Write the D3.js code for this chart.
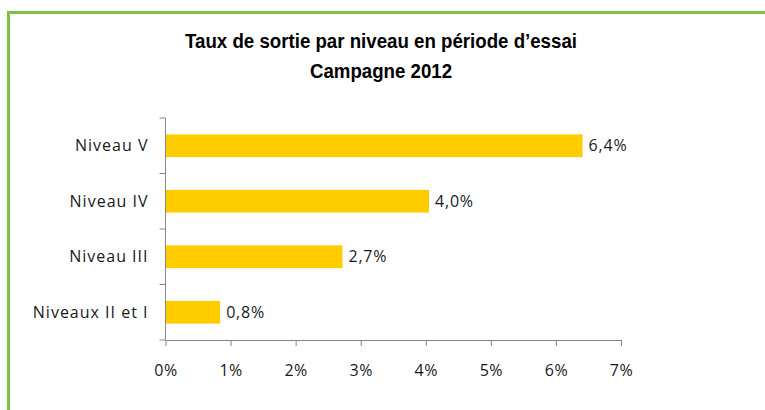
<!DOCTYPE html>
<html>
<head>
<meta charset="utf-8">
<script src="https://cdn.jsdelivr.net/npm/d3@7"></script>
<style>
  body { margin: 0; background: #fff; }
</style>
</head>
<body>
<svg id="chart" width="765" height="410"></svg>
<script>
// data
let categories = ["Niveau V", "Niveau IV", "Niveau III", "Niveaux II et I"];
let values = [6.41, 4.05, 2.72, 0.84];
let valueLabels = ["6,4%", "4,0%", "2,7%", "0,8%"];
let xTicks = [0, 1, 2, 3, 4, 5, 6, 7];
let titleLines = ["Taux de sortie par niveau en période d\u2019essai", "Campagne 2012"];

let svg = d3.select("#chart");

// green frame (runs off the right and bottom edges)
svg.append("path")
    .attr("d", "M8.5,900 V12.5 H900")
    .attr("fill", "none")
    .attr("stroke", "#7dc143")
    .attr("stroke-width", 3);

// title (narrow bold look)
svg.append("g")
    .attr("transform", "translate(381,0) scale(0.89,1)")
    .selectAll("text")
    .data(titleLines)
    .enter()
    .append("text")
    .attr("x", 0)
    .attr("y", function (d, i) { return 48 + i * 30; })
    .attr("text-anchor", "middle")
    .style("font-family", "'Liberation Sans', Arial, sans-serif")
    .style("font-weight", "bold")
    .style("font-size", "21px")
    .text(function (d) { return d; });

let x = d3.scaleLinear().domain([0, 7]).range([165.5, 621]);
let y = d3.scaleBand().domain(categories).range([118, 340]).paddingInner(0.59).paddingOuter(0.295);

let font = "'Open Sans', Lato, sans-serif";

// bars
svg.append("g")
    .selectAll("rect")
    .data(values)
    .enter()
    .append("rect")
    .attr("x", x(0))
    .attr("y", function (d, i) { return y(categories[i]); })
    .attr("width", function (d) { return x(d) - x(0); })
    .attr("height", y.bandwidth())
    .attr("fill", "#ffcc00");

// value labels
svg.append("g")
    .selectAll("text")
    .data(values)
    .enter()
    .append("text")
    .attr("x", function (d) { return x(d) + 6; })
    .attr("y", function (d, i) { return y(categories[i]) + y.bandwidth() / 2; })
    .attr("dy", "0.35em")
    .style("font-family", font)
    .style("font-size", "16px")
    .style("letter-spacing", "0.8px")
    .attr("fill", "#1a1a1a")
    .text(function (d, i) { return valueLabels[i]; });

// x axis
let xAxis = svg.append("g")
    .attr("transform", "translate(0,340)")
    .call(d3.axisBottom(x).tickValues(xTicks).tickSize(6).tickSizeOuter(0).tickPadding(19)
        .tickFormat(function (d) { return d + "%"; }));
xAxis.selectAll("line, path").attr("stroke", "#868686");
xAxis.selectAll("text")
    .style("font-family", font)
    .style("font-size", "16px")
    .style("letter-spacing", "0.5px")
    .attr("fill", "#1a1a1a");

// y axis with ticks at band boundaries
let yAxis = svg.append("g").attr("transform", "translate(" + x(0) + ",0)");
let bounds = d3.range(categories.length + 1).map(function (i) {
    return 118 + i * (340 - 118) / categories.length;
});
yAxis.append("line")
    .attr("x1", 0).attr("x2", 0)
    .attr("y1", 118).attr("y2", 340)
    .attr("stroke", "#868686");
yAxis.selectAll("line.tk")
    .data(bounds)
    .enter()
    .append("line")
    .attr("class", "tk")
    .attr("x1", -6).attr("x2", 0)
    .attr("y1", function (d) { return d; })
    .attr("y2", function (d) { return d; })
    .attr("stroke", "#868686");
yAxis.selectAll("text")
    .data(categories)
    .enter()
    .append("text")
    .attr("x", -17)
    .attr("y", function (d) { return y(d) + y.bandwidth() / 2; })
    .attr("dy", "0.35em")
    .attr("text-anchor", "end")
    .style("font-family", font)
    .style("font-size", "16px")
    .style("letter-spacing", "1px")
    .attr("fill", "#1a1a1a")
    .text(function (d) { return d; });
</script>
</body>
</html>
